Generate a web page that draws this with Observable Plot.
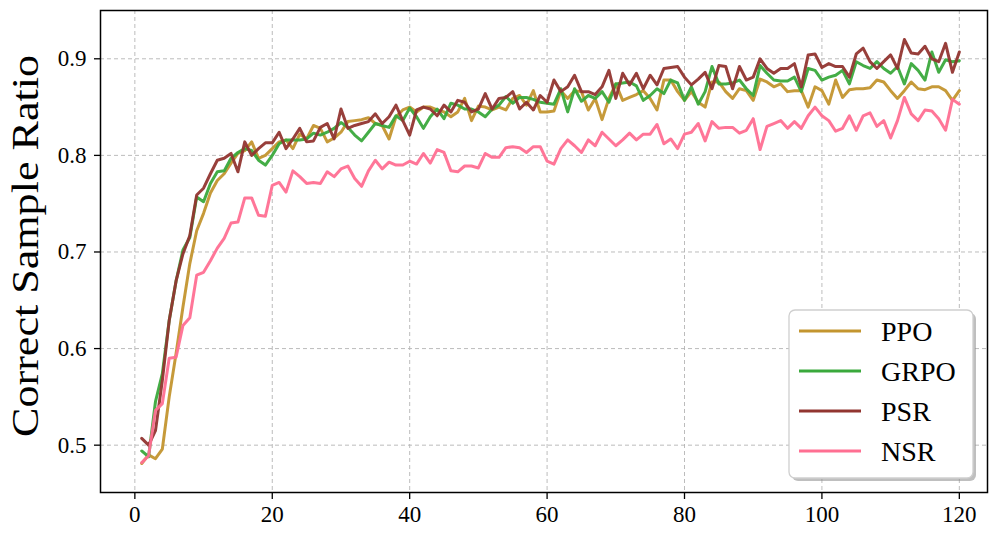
<!DOCTYPE html>
<html>
<head>
<meta charset="utf-8">
<script src="https://cdn.jsdelivr.net/npm/d3@7"></script>
<script src="https://cdn.jsdelivr.net/npm/@observablehq/plot@0.6"></script>
<style>
  html, body { margin: 0; padding: 0; background: #fff; }
  #chart { position: relative; width: 997px; height: 541px; }
</style>
</head>
<body>
<div id="chart"></div>
<script>
const seriesNames = ["PPO", "GRPO", "PSR", "NSR"];
const seriesColors = ["#c3952f", "#3aa93c", "#923530", "#ff6f92"];
const xTicks = [0, 20, 40, 60, 80, 100, 120];
const yTicks = [0.5, 0.6, 0.7, 0.8, 0.9];
const yLabel = "Correct Sample Ratio";

const ppo = [0.481,0.490,0.486,0.496,0.550,0.595,0.643,0.688,0.722,0.740,
0.761,0.774,0.781,0.792,0.802,0.805,0.814,0.797,0.800,0.807,
0.814,0.816,0.807,0.822,0.817,0.831,0.828,0.814,0.818,0.824,
0.835,0.836,0.837,0.839,0.833,0.831,0.817,0.840,0.847,0.850,
0.845,0.850,0.850,0.847,0.845,0.840,0.845,0.859,0.836,0.851,
0.850,0.847,0.850,0.847,0.859,0.862,0.852,0.867,0.845,0.845,
0.846,0.867,0.859,0.867,0.866,0.847,0.859,0.837,0.859,0.874,
0.857,0.860,0.863,0.867,0.859,0.847,0.878,0.878,0.866,0.857,
0.866,0.855,0.850,0.876,0.876,0.866,0.859,0.869,0.867,0.857,
0.879,0.876,0.871,0.874,0.866,0.867,0.867,0.850,0.871,0.867,
0.853,0.878,0.860,0.868,0.869,0.869,0.870,0.878,0.876,0.867,
0.859,0.867,0.876,0.869,0.868,0.871,0.871,0.867,0.857,0.867];

const grpo = [0.494,0.488,0.545,0.574,0.629,0.670,0.702,0.715,0.757,0.752,
0.771,0.783,0.784,0.797,0.803,0.807,0.805,0.795,0.790,0.800,
0.812,0.816,0.816,0.816,0.817,0.823,0.821,0.824,0.828,0.834,
0.829,0.821,0.815,0.824,0.833,0.831,0.829,0.841,0.836,0.849,
0.840,0.828,0.840,0.848,0.838,0.854,0.852,0.848,0.848,0.845,
0.840,0.848,0.852,0.861,0.854,0.860,0.860,0.858,0.855,0.854,
0.853,0.869,0.845,0.869,0.856,0.862,0.859,0.866,0.855,0.874,
0.875,0.876,0.872,0.857,0.862,0.869,0.864,0.878,0.875,0.857,
0.871,0.853,0.866,0.892,0.874,0.874,0.875,0.878,0.869,0.862,
0.893,0.885,0.878,0.877,0.877,0.881,0.866,0.890,0.888,0.878,
0.881,0.883,0.888,0.874,0.897,0.893,0.890,0.897,0.890,0.885,
0.892,0.874,0.895,0.888,0.878,0.907,0.886,0.899,0.897,0.898];

const psr = [0.507,0.500,0.515,0.567,0.629,0.670,0.698,0.717,0.759,0.766,
0.781,0.795,0.797,0.802,0.783,0.814,0.800,0.807,0.813,0.813,
0.824,0.807,0.817,0.828,0.814,0.815,0.829,0.833,0.817,0.848,
0.828,0.831,0.833,0.835,0.843,0.833,0.840,0.852,0.836,0.821,
0.847,0.850,0.848,0.841,0.852,0.845,0.857,0.855,0.845,0.848,
0.864,0.848,0.859,0.860,0.866,0.848,0.855,0.847,0.862,0.855,
0.878,0.866,0.871,0.883,0.866,0.866,0.863,0.871,0.888,0.859,
0.885,0.873,0.885,0.869,0.883,0.873,0.890,0.891,0.892,0.881,
0.873,0.879,0.886,0.869,0.893,0.892,0.869,0.892,0.878,0.881,
0.900,0.890,0.885,0.890,0.890,0.895,0.871,0.904,0.905,0.891,
0.895,0.892,0.892,0.881,0.905,0.911,0.897,0.890,0.897,0.904,
0.890,0.920,0.906,0.905,0.913,0.900,0.897,0.916,0.886,0.907];

const nsr = [0.482,0.489,0.536,0.543,0.590,0.591,0.624,0.632,0.676,0.679,
0.691,0.704,0.714,0.730,0.731,0.756,0.756,0.738,0.737,0.769,
0.772,0.762,0.784,0.778,0.771,0.772,0.771,0.783,0.778,0.786,
0.789,0.776,0.768,0.784,0.795,0.786,0.793,0.790,0.790,0.794,
0.791,0.802,0.792,0.806,0.803,0.784,0.783,0.789,0.789,0.787,
0.802,0.798,0.798,0.808,0.809,0.808,0.803,0.809,0.809,0.794,
0.791,0.807,0.816,0.810,0.803,0.816,0.810,0.824,0.817,0.810,
0.816,0.823,0.816,0.822,0.822,0.832,0.812,0.817,0.807,0.822,
0.824,0.833,0.815,0.835,0.828,0.829,0.829,0.823,0.826,0.838,
0.806,0.830,0.833,0.836,0.828,0.835,0.828,0.841,0.850,0.841,
0.836,0.825,0.828,0.841,0.826,0.841,0.844,0.830,0.836,0.818,
0.836,0.860,0.843,0.836,0.847,0.846,0.838,0.826,0.858,0.853];

const seriesValues = [ppo, grpo, psr, nsr];

const rows = [];
seriesNames.forEach((name, si) => {
  seriesValues[si].forEach((v, i) => rows.push({series: name, step: i + 1, value: v}));
});

const FONT = "'Liberation Serif', 'DejaVu Serif', serif";

const svg = Plot.plot({
  width: 997,
  height: 541,
  marginLeft: 100,
  marginRight: 10,
  marginTop: 10,
  marginBottom: 49,
  style: {fontFamily: FONT, background: "#fff", color: "#000", overflow: "visible"},
  x: {domain: [-5, 124.1]},
  y: {domain: [0.451, 0.95]},
  color: {domain: seriesNames, range: seriesColors},
  marks: [
    Plot.gridX(xTicks, {stroke: "#b4b4b4", strokeOpacity: 1, strokeWidth: 0.9, strokeDasharray: "4,3"}),
    Plot.gridY(yTicks, {stroke: "#b4b4b4", strokeOpacity: 1, strokeWidth: 0.9, strokeDasharray: "4,3"}),
    Plot.lineY(rows, {x: "step", y: "value", stroke: "series", z: "series", strokeWidth: 3, strokeOpacity: 0.95}),
    Plot.axisX(xTicks, {tickSize: 7, tickPadding: 6, fontSize: 23, strokeWidth: 1.3, label: null}),
    Plot.axisY(yTicks, {tickSize: 6, tickPadding: 8, fontSize: 23, strokeWidth: 1.3, tickFormat: d3.format(".1f"), label: null}),
    Plot.frame({stroke: "#000", strokeWidth: 1.5})
  ]
});

document.getElementById("chart").appendChild(svg);

// y-axis title
d3.select(svg).append("text")
  .attr("transform", "translate(38,437) rotate(-90)")
  .attr("text-anchor", "start")
  .attr("font-family", FONT).attr("font-size", 38).attr("fill", "#000")
  .attr("textLength", 382).attr("lengthAdjust", "spacingAndGlyphs")
  .text(yLabel);

// legend inside the plot
const lg = d3.select(svg).append("g").attr("transform", "translate(789,310)");
lg.append("rect").attr("x", 3).attr("y", 3).attr("width", 184).attr("height", 168)
  .attr("rx", 6).attr("fill", "#8a8a8a").attr("fill-opacity", 0.55);
lg.append("rect").attr("x", 0).attr("y", 0).attr("width", 184).attr("height", 168)
  .attr("rx", 6).attr("fill", "#fff").attr("stroke", "#cfcfcf").attr("stroke-width", 1.3);
seriesNames.forEach((name, i) => {
  const cy = 21 + i * 40;
  lg.append("line").attr("x1", 10).attr("x2", 72).attr("y1", cy).attr("y2", cy)
    .attr("stroke", seriesColors[i]).attr("stroke-width", 3.2);
  lg.append("text").attr("x", 92).attr("y", cy).attr("dy", "0.35em")
    .attr("text-anchor", "start")
    .attr("font-size", 28).attr("font-family", FONT).attr("fill", "#000").text(name);
});
</script>
</body>
</html>
